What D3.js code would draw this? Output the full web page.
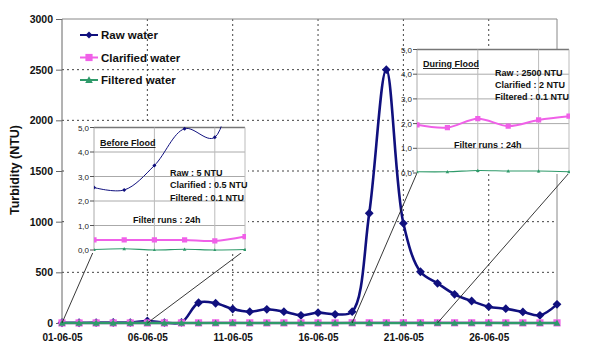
<!DOCTYPE html>
<html><head><meta charset="utf-8">
<script src="https://cdn.jsdelivr.net/npm/d3@7"></script>
<style>
body{margin:0;background:#fff}
svg{display:block}
text{font-family:"Liberation Sans",Arial,sans-serif}
</style>
</head><body>
<svg id="c" width="589" height="351"></svg>
<script>
// ---------- DATA ----------
const categories = ["01-06-05","02-06-05","03-06-05","04-06-05","05-06-05","06-06-05","07-06-05","08-06-05","09-06-05","10-06-05",
  "11-06-05","12-06-05","13-06-05","14-06-05","15-06-05","16-06-05","17-06-05","18-06-05","19-06-05","20-06-05",
  "21-06-05","22-06-05","23-06-05","24-06-05","25-06-05","26-06-05","27-06-05","28-06-05","29-06-05","30-06-05"];
const tickLabels = ["01-06-05","06-06-05","11-06-05","16-06-05","21-06-05","26-06-05"];
const yTicks = [0,500,1000,1500,2000,2500,3000];
const rawWater = [2.55,2.45,3.45,4.95,4.6,20,4,6,200,195,138,112,135,112,76,102,86,112,1083,2500,984,506,392,283,217,161,141,109,76,184];
const clarifiedWater = [0.41,0.41,0.41,0.41,0.37,0.55,0.6,0.8,1.2,1.4,1.3,1.2,1.1,1.0,1.0,0.9,0.9,1.95,1.84,2.2,1.9,2.15,2.3,1.8,1.6,1.4,1.2,1.1,1.0,1.1];
const filteredWater = [0.02,0.05,0.0,0.03,0.0,0.02,0.05,0.05,0.05,0.06,0.05,0.05,0.05,0.05,0.05,0.05,0.05,0.05,0.05,0.1,0.08,0.08,0.05,0.05,0.05,0.05,0.05,0.05,0.05,0.05];
const insetTicks = [0,1,2,3,4,5];
const insetTickLabels = ["0,0","1,0","2,0","3,0","4,0","5,0"];
const beforeFloodIdx = [0,1,2,3,4,5];
const duringFloodIdx = [17,18,19,20,21,22];
const beforeNotes = ["Raw : 5 NTU","Clarified : 0.5 NTU","Filtered : 0.1 NTU"];
const duringNotes = ["Raw : 2500 NTU","Clarified : 2 NTU","Filtered : 0.1 NTU"];
const seriesNames = ["Raw water","Clarified water","Filtered water"];

// ---------- STYLE ----------
const C_RAW = "#10107e", C_CLA = "#f060e8", C_FIL = "#2f9a6a";
const svg = d3.select("#c");
const M = {l:62, r:557, t:19, b:323};

const x = d3.scalePoint().domain(categories).range([M.l, M.r]);
const y = d3.scaleLinear().domain([0,3000]).range([M.b, M.t]);

// grid
const g = svg.append("g");
g.selectAll(".hg").data(yTicks.filter(v=>v>0 && v<3000)).join("line")
  .attr("x1",M.l).attr("x2",M.r).attr("y1",d=>y(d)).attr("y2",d=>y(d))
  .attr("stroke","#444").attr("stroke-width",1).attr("stroke-dasharray","2,3");
g.selectAll(".vg").data(tickLabels.slice(1)).join("line")
  .attr("x1",d=>x(d)).attr("x2",d=>x(d)).attr("y1",M.t).attr("y2",M.b)
  .attr("stroke","#444").attr("stroke-width",1).attr("stroke-dasharray","2,3");
// frame
g.append("line").attr("x1",M.l).attr("x2",M.r).attr("y1",M.t).attr("y2",M.t).attr("stroke","#888");
g.append("line").attr("x1",M.r).attr("x2",M.r).attr("y1",M.t).attr("y2",M.b).attr("stroke","#888");
g.append("line").attr("x1",M.l).attr("x2",M.l).attr("y1",M.t).attr("y2",M.b).attr("stroke","#666");
g.append("line").attr("x1",M.l).attr("x2",M.r).attr("y1",M.b).attr("y2",M.b).attr("stroke","#666");

// y axis
const ya = svg.append("g").attr("transform",`translate(${M.l},0)`)
  .call(d3.axisLeft(y).tickValues(yTicks).tickFormat(d3.format("d")).tickSize(6).tickPadding(3));
ya.select(".domain").remove();
ya.selectAll("line").attr("stroke","#666");
ya.selectAll("text").attr("font-size",10.5).attr("font-weight","bold").attr("fill","#111")
  .style("font-family","'Liberation Sans',Arial,sans-serif");

// x axis labels
const xa = svg.append("g").attr("transform",`translate(0,${M.b})`)
  .call(d3.axisBottom(x).tickValues(tickLabels).tickSize(0).tickPadding(11));
xa.select(".domain").remove();
xa.selectAll("text").attr("font-size",10).attr("font-weight","bold").attr("fill","#111")
  .style("font-family","'Liberation Sans',Arial,sans-serif");

// y title
svg.append("text").attr("transform","translate(19,170) rotate(-90)").attr("text-anchor","middle")
  .attr("font-size",12.5).attr("font-weight","bold").attr("fill","#111").text("Turbidity (NTU)");

// marker helpers
function diamond(r){return `M0,${-r}L${r},0L0,${r}L${-r},0Z`;}
function square(r){return `M${-r},${-r}H${r}V${r}H${-r}Z`;}
function triangle(r){return `M0,${-r}L${r},${r*0.8}L${-r},${r*0.8}Z`;}

const curve = d3.curveCatmullRom.alpha(0.5);

function drawSeries(parent, xs, ys, cats, vals, color, width, shape, r, clipId){
  const gg = parent.append("g");
  if(clipId) gg.attr("clip-path",`url(#${clipId})`);
  const line = d3.line().x((d,i)=>xs(cats[i])).y(d=>ys(d)).curve(curve);
  gg.append("path").datum(vals).attr("d",line).attr("fill","none").attr("stroke",color)
    .attr("stroke-width",width).attr("stroke-linejoin","round");
  gg.selectAll("path.m").data(vals).join("path").attr("class","m")
    .attr("transform",(d,i)=>`translate(${xs(cats[i])},${ys(d)})`)
    .attr("d",shape(r)).attr("fill",color);
}

drawSeries(svg, x, y, categories, rawWater, C_RAW, 2.6, diamond, 4.4);
drawSeries(svg, x, y, categories, clarifiedWater, C_CLA, 2.5, square, 3.6);
drawSeries(svg, x, y, categories, filteredWater, C_FIL, 2.6, triangle, 3.4);

// ---------- INSETS ----------
function inset(opts){
  const {idx, x0, x1, y0, y1, bg, notes, title, titlePos, notesPos, runsPos, showRaw, clipId} = opts;
  const cats = idx.map(i=>categories[i]);
  const xs = d3.scalePoint().domain(cats).range([x0,x1]);
  const ys = d3.scaleLinear().domain([0,5]).range([y0,y1]);
  // connectors
  svg.append("line").attr("x1",x(cats[0])).attr("y1",y(0)).attr("x2",x0).attr("y2",y0)
    .attr("stroke","#222").attr("stroke-width",0.9);
  svg.append("line").attr("x1",x(cats[cats.length-1])).attr("y1",y(0)).attr("x2",x1).attr("y2",y0)
    .attr("stroke","#222").attr("stroke-width",0.9);
  const ig = svg.append("g");
  ig.append("rect").attr("x",bg[0]).attr("y",bg[1]).attr("width",bg[2]).attr("height",bg[3]).attr("fill","#fff");
  svg.append("clipPath").attr("id",clipId).append("rect").attr("x",x0).attr("y",y1-1).attr("width",x1-x0+1).attr("height",y0-y1+2);
  // grid
  ig.selectAll(".h").data(insetTicks.slice(1)).join("line")
    .attr("x1",x0).attr("x2",x1).attr("y1",d=>ys(d)).attr("y2",d=>ys(d))
    .attr("stroke",d=>d===5?"#777":"#aaa").attr("stroke-width",d=>d===5?1.3:1);
  ig.selectAll(".v").data([cats[2],cats[4]]).join("line")
    .attr("x1",d=>xs(d)).attr("x2",d=>xs(d)).attr("y1",y1).attr("y2",y0)
    .attr("stroke","#bbb");
  ig.append("line").attr("x1",x1).attr("x2",x1).attr("y1",y1).attr("y2",y0).attr("stroke","#bbb");
  ig.append("line").attr("x1",x0).attr("x2",x0).attr("y1",y1).attr("y2",y0).attr("stroke","#aaa");
  ig.selectAll(".t").data(insetTicks).join("line")
    .attr("x1",x0-4).attr("x2",x0).attr("y1",d=>ys(d)).attr("y2",d=>ys(d)).attr("stroke","#555");
  ig.selectAll(".tl").data(insetTicks).join("text")
    .attr("x",x0-5).attr("y",d=>ys(d)+3).attr("text-anchor","end").attr("font-size",8)
    .attr("fill","#222").text((d,i)=>insetTickLabels[i]);
  // series
  if(showRaw) drawSeries(ig, xs, ys, cats, idx.map(i=>rawWater[i]), C_RAW, 1, diamond, 2, clipId);
  drawSeries(ig, xs, ys, cats, idx.map(i=>clarifiedWater[i]), C_CLA, 2, square, 2.6, clipId);
  drawSeries(ig, xs, ys, cats, idx.map(i=>filteredWater[i]), C_FIL, 1.1, triangle, 1.8, clipId);
  // texts
  ig.append("text").attr("x",titlePos[0]).attr("y",titlePos[1]).attr("font-size",9).attr("font-weight","bold")
    .attr("text-decoration","underline").attr("fill","#111").text(title);
  ig.selectAll(".n").data(notes).join("text").attr("x",notesPos[0]).attr("y",(d,i)=>notesPos[1]+i*notesPos[2])
    .attr("font-size",9).attr("font-weight","bold").attr("fill","#111").text(d=>d);
  ig.append("text").attr("x",runsPos[0]).attr("y",runsPos[1]).attr("font-size",9).attr("font-weight","bold")
    .attr("fill","#111").text("Filter runs : 24h");
}

inset({idx:beforeFloodIdx, x0:94, x1:245, y0:250, y1:127.5, bg:[67,124,181,129],
  notes:beforeNotes, title:"Before Flood", titlePos:[100,146], notesPos:[170,176,12.3], runsPos:[133,223],
  showRaw:true, clipId:"c1"});
inset({idx:duringFloodIdx, x0:417, x1:569, y0:173, y1:49.5, bg:[417,49,153,125],
  notes:duringNotes, title:"During Flood", titlePos:[423,67], notesPos:[495,76,11.8], runsPos:[454,148],
  showRaw:false, clipId:"c2"});

// ---------- LEGEND ----------
const lg = svg.append("g");
const legShapes = [diamond, square, triangle], legColors = [C_RAW, C_CLA, C_FIL], legR = [3.5,3.6,3.8];
seriesNames.forEach((nm,i)=>{
  const yy = 35 + i*22.5;
  lg.append("line").attr("x1",80).attr("x2",98).attr("y1",yy).attr("y2",yy).attr("stroke",legColors[i]).attr("stroke-width",2);
  lg.append("path").attr("transform",`translate(89,${yy})`).attr("d",legShapes[i](legR[i])).attr("fill",legColors[i]);
  lg.append("text").attr("x",101).attr("y",yy+4).attr("font-size",11.5).attr("font-weight","bold").attr("fill","#111").text(nm);
});
</script>
</body></html>
